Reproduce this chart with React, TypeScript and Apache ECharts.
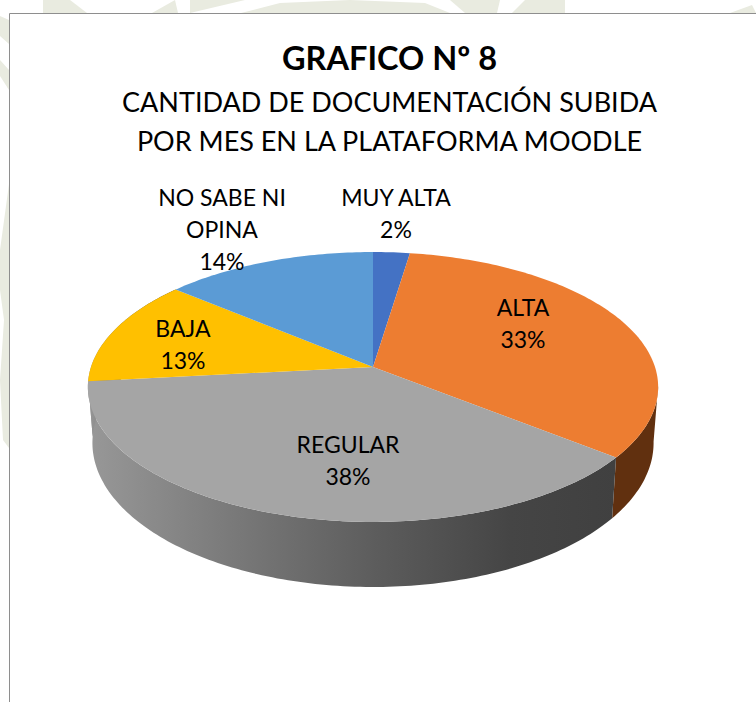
import React, { useEffect, useRef } from "react";
import * as echarts from "echarts";

const categories = ["MUY ALTA", "ALTA", "REGULAR", "BAJA", "NO SABE NI\nOPINA"];
const shares = [2.4, 33.3, 37.6, 12.8, 13.9];
const topColors = ["#4472C4", "#ED7D31", "#A5A5A5", "#FFC000", "#5B9BD5"];

const titleText = "GRAFICO Nº 8";
const subtitleText = "CANTIDAD DE DOCUMENTACIÓN SUBIDA\nPOR MES EN LA PLATAFORMA MOODLE";

const FONT = "Lato";
const labelCentres: [number, number][] = [
  [396, 213],
  [523, 323],
  [348, 460],
  [183, 344],
  [222, 229],
];

const cx = 373;
const persp = 0.148;
const topRim = { k: 282, m: 132, y0: 367 };
const baseRim = { k: 277.5, m: 141, y0: 421.5 };
const RIGHT_SILHOUETTE = 98;

const paleShapes: number[][][] = [
  [[43, 0], [70, 0], [87, 13], [43, 13]],
  [[152, 13], [175, 0], [178, 13]],
  [[190, 0], [245, 0], [190, 13]],
  [[241, 13], [280, 3], [350, 0], [425, 3], [450, 13]],
  [[450, 0], [500, 0], [497, 13], [465, 13]],
  [[512, 13], [525, 0], [565, 0], [565, 13]],
  [[730, 13], [752, 5], [756, 13]],
  [[0, 16], [9, 20], [9, 44], [0, 36]],
  [[0, 60], [9, 70], [9, 90], [0, 76]],
  [[9, 184], [9, 448], [3, 440], [0, 380], [4, 320], [0, 290], [0, 250]],
];

type Rim = { k: number; m: number; y0: number };

function project(rim: Rim, deg: number): [number, number] {
  const a = (deg * Math.PI) / 180;
  const u = Math.sin(a);
  const v = -Math.cos(a);
  const d = 1 - persp * v;
  return [cx + (rim.k * u) / d, rim.y0 + (rim.m * v) / d];
}

function rimPoints(rim: Rim, from: number, to: number): [number, number][] {
  const out: [number, number][] = [];
  const steps = Math.max(2, Math.ceil(Math.abs(to - from)));
  for (let i = 0; i <= steps; i++) out.push(project(rim, from + ((to - from) * i) / steps));
  return out;
}

const total = shares.reduce((s, x) => s + x, 0);
const spans = shares.map((_, i) => {
  const before = shares.slice(0, i).reduce((s, x) => s + x, 0);
  return [(before / total) * 360, ((before + shares[i]) / total) * 360];
});

function sideFill(i: number) {
  if (i === 1) return "#61300F";
  return new echarts.graphic.LinearGradient(0, 0, 1, 0, [
    { offset: 0, color: "#989898" },
    { offset: 0.25, color: "#7C7C7C" },
    { offset: 0.55, color: "#5C5C5C" },
    { offset: 0.8, color: "#454545" },
    { offset: 1, color: "#404040" },
  ]);
}

export default function App() {
  const ref = useRef<HTMLDivElement>(null);
  useEffect(() => {
    const chart = echarts.init(ref.current!, undefined, { renderer: "svg" });
    chart.setOption({
      animation: false,
      backgroundColor: "#FFFFFF",
      title: {
        left: 384.5,
        top: 35.5,
        textAlign: "center",
        text: titleText,
        subtext: subtitleText,
        itemGap: 8,
        textStyle: { fontFamily: FONT, fontSize: 32.5, fontWeight: "bold", color: "#000000" },
        subtextStyle: { fontFamily: FONT, fontSize: 27, lineHeight: 39, color: "#000000" },
      },
      graphic: [
        ...paleShapes.map((points) => ({
          type: "polygon",
          silent: true,
          z: 0,
          shape: { points },
          style: { fill: "#E9EBE0" },
        })),
        {
          type: "polyline",
          silent: true,
          z: 0,
          shape: { points: [[9.5, 702], [9.5, 13.5], [756, 13.5]] },
          style: { stroke: "#8E8E8E", lineWidth: 1, fill: "none" },
        },
      ],
      series: [
        {
          type: "custom",
          coordinateSystem: "none",
          data: shares.map((value, i) => ({ name: categories[i], value })),
          renderItem: (params: any) => {
            const i = params.dataIndex;
            const [from, to] = spans[i];
            const children: any[] = [];
            const sFrom = Math.max(from, RIGHT_SILHOUETTE);
            const sTo = to;
            if (sTo > sFrom && sFrom < 270) {
              const pts = [...rimPoints(topRim, sFrom, sTo), ...rimPoints(baseRim, sTo, sFrom)];
              children.push({
                type: "polygon",
                z2: 1,
                shape: { points: pts },
                style: { fill: sideFill(i) },
              });
            }
            children.push({
              type: "polygon",
              z2: 2,
              shape: { points: [[cx, topRim.y0], ...rimPoints(topRim, from, to)] },
              style: { fill: topColors[i] },
            });
            children.push({
              type: "text",
              z2: 5,
              x: labelCentres[i][0],
              y: labelCentres[i][1],
              style: {
                text: `${categories[i]}\n${Math.round(shares[i])}%`,
                fontFamily: FONT,
                fontSize: 23,
                lineHeight: 32,
                fill: "#000000",
                align: "center",
                verticalAlign: "middle",
              },
            });
            return { type: "group", children };
          },
        },
      ],
    });
    return () => chart.dispose();
  }, []);
  return <div ref={ref} style={{ position: "fixed", left: 0, top: 0, width: 756, height: 702 }} />;
}
